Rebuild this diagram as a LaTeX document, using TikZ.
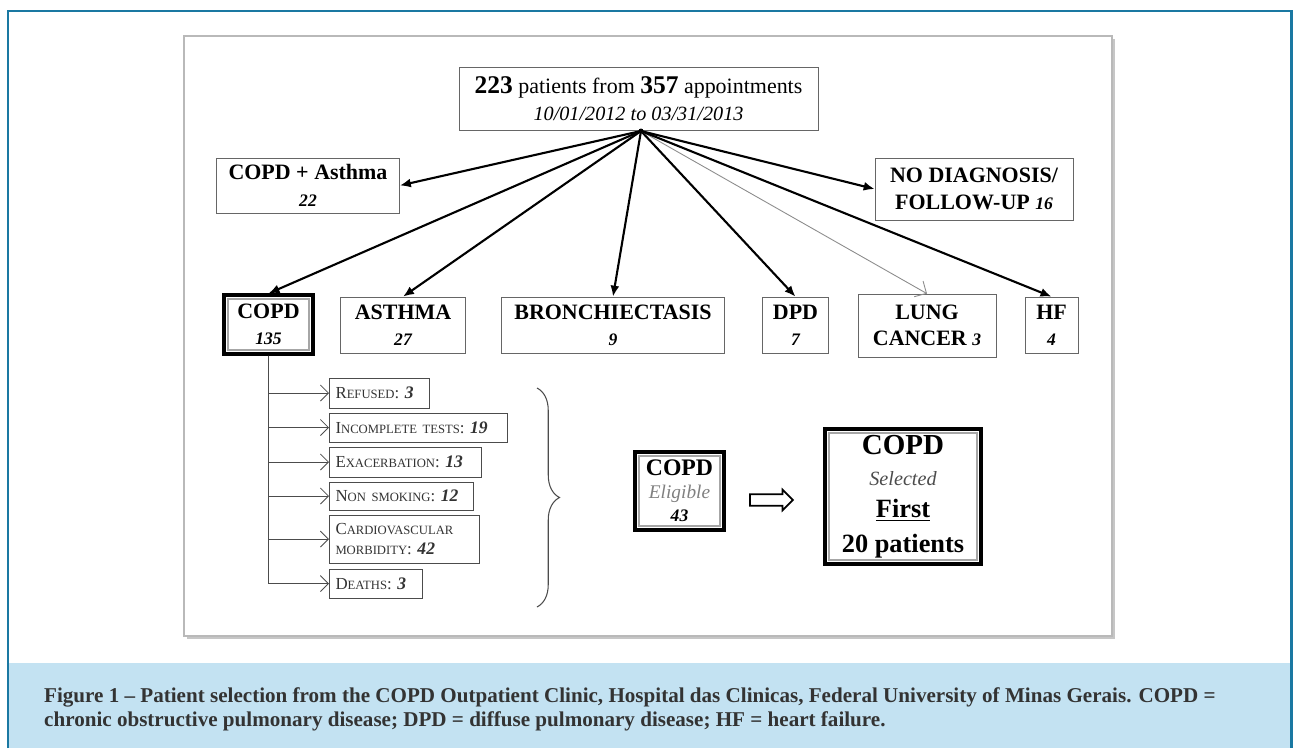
\documentclass[tikz,border=0pt]{standalone}
\usepackage{fontspec}
\setmainfont{Liberation Serif}
\usetikzlibrary{arrows.meta,shapes.arrows,shadows,decorations.pathreplacing}
\definecolor{frameblue}{HTML}{1A78A2}
\definecolor{capblue}{HTML}{C3E2F2}
\definecolor{captext}{HTML}{333333}
\newcommand{\cnt}[1]{{\fontsize{10}{12}\selectfont\bfseries\itshape #1}}
\newcommand{\fsc}[2]{#1{\fontsize{7.2}{9}\selectfont #2}}
\tikzset{
  box/.style={draw=black!60,fill=white,align=center,inner sep=0pt,font=\fontsize{12.5}{15}\selectfont\bfseries},
  keybox/.style={box,draw=black,line width=1.8pt,
    path picture={\draw[gray!70,line width=0.8pt]
      ([shift={(2.2pt,-2.2pt)}]path picture bounding box.north west) rectangle
      ([shift={(-2.2pt,2.2pt)}]path picture bounding box.south east);}},
  exbox/.style={draw=black!70,fill=white,anchor=west,align=left,inner xsep=3.5pt,
    text width=#1,font=\fontsize{9.6}{11}\selectfont,text=black!80},
  flow/.style={-{Latex[length=2.2mm,width=1.8mm]},line width=1.2pt},
  faint/.style={-{Straight Barb[length=1.8mm]},black!45,line width=0.5pt},
  exarr/.style={-{Straight Barb[length=1.6mm]},black!70,line width=0.5pt},
}
\begin{document}
\begin{tikzpicture}[x=0.02cm,y=-0.02cm]
  \useasboundingbox (0,0) rectangle (1295,748);
  % frame and caption band
  \fill[capblue] (8,663) rectangle (1291,748);
  \draw[frameblue,line width=1.7pt] (8,748) -- (8,11) -- (1291,11) -- (1291,748);
  \node[anchor=west,align=left,text=captext,font=\fontsize{12}{13.6}\selectfont\bfseries] (cap) at (38,709)
    {Figure 1 -- Patient selection from the COPD Outpatient Clinic, Hospital das Clinicas, Federal University of Minas Gerais. COPD =\\
     chronic obstructive pulmonary disease; DPD = diffuse pulmonary disease; HF = heart failure.};
  % panel
  \draw[gray!55,line width=1pt,fill=white,drop shadow={shadow xshift=1.5pt,shadow yshift=-1.5pt,opacity=0.45}] (184,36) rectangle (1112,636);

  % top
  \node[box,font=\fontsize{12.5}{15.5}\selectfont,minimum width=7.18cm,minimum height=1.26cm] (all) at (638.5,98.5)
    {{\fontsize{14.5}{15}\selectfont\bfseries 223} patients from {\fontsize{14.5}{15}\selectfont\bfseries 357} appointments\\
     {\fontsize{11.5}{13}\selectfont\itshape 10/01/2012 to 03/31/2013}};
  \coordinate (hub) at (641,131);
  \fill (hub) circle (2.5);

  % diagnoses
  \node[box,minimum width=3.66cm,minimum height=1.10cm] (copdast) at (308,185.5) {COPD + Asthma\\\cnt{22}};
  \node[box,minimum width=3.96cm,minimum height=1.24cm] (nodiag) at (974,189) {NO DIAGNOSIS/\\FOLLOW-UP \cnt{16}};
  \node[keybox,minimum width=1.78cm,minimum height=1.18cm] (copd) at (268.5,324.5) {COPD\\\cnt{135}};
  \node[box,minimum width=2.50cm,minimum height=1.12cm] (asthma) at (403,325) {ASTHMA\\\cnt{27}};
  \node[box,minimum width=4.46cm,minimum height=1.12cm] (bronch) at (613,325) {BRONCHIECTASIS\\\cnt{9}};
  \node[box,minimum width=1.32cm,minimum height=1.12cm] (dpd) at (795.5,325) {DPD\\\cnt{7}};
  \node[box,minimum width=2.76cm,minimum height=1.26cm] (lung) at (927,325.5) {LUNG\\CANCER \cnt{3}};
  \node[box,minimum width=1.06cm,minimum height=1.12cm] (hf) at (1051.5,325) {HF\\\cnt{4}};

  \draw[flow] (hub) -- (copdast.east);
  \draw[flow] (hub) -- (nodiag.west);
  \draw[flow] (hub) -- (copd.north);
  \draw[flow] (hub) -- (asthma.north);
  \draw[flow] (hub) -- (bronch.north);
  \draw[flow] (hub) -- (dpd.north);
  \draw[faint] (hub) -- (lung.north);
  \draw[flow] (hub) -- (hf.north);

  % exclusions
  \node[exbox=1.76cm,minimum height=0.60cm] (refused) at (329,393) {\fsc{R}{EFUSED}: \cnt{3}};
  \node[exbox=3.32cm,minimum height=0.58cm] (incompl) at (329,427.5) {\fsc{I}{NCOMPLETE TESTS}: \cnt{19}};
  \node[exbox=2.80cm,minimum height=0.60cm] (exacerb) at (329,462) {\fsc{E}{XACERBATION}: \cnt{13}};
  \node[exbox=2.64cm,minimum height=0.56cm] (nonsmok) at (329,496) {\fsc{N}{ON SMOKING}: \cnt{12}};
  \node[exbox=2.76cm,minimum height=0.96cm] (cardio) at (329,539) {\fsc{C}{ARDIOVASCULAR}\\{\fontsize{7.2}{9}\selectfont MORBIDITY}: \cnt{42}};
  \node[exbox=1.62cm,minimum height=0.58cm] (deaths) at (329,583.5) {\fsc{D}{EATHS}: \cnt{3}};
  \foreach \ex in {refused,incompl,exacerb,nonsmok,cardio,deaths}
    \draw[exarr] (copd.south) |- (\ex.west);
  \draw[decorate,decoration={brace,amplitude=0.45cm},black!70,line width=0.6pt] (537,388) -- (537,607);

  % result
  \node[keybox,font=\fontsize{13.5}{15}\selectfont\bfseries,minimum width=1.78cm,minimum height=1.56cm] (elig) at (679.5,491)
    {COPD\\[-2pt]{\fontsize{11}{12}\selectfont\mdseries\itshape\color{gray}Eligible}\\[-2pt]\cnt{43}};
  \node[draw,single arrow,single arrow head extend=2.6pt,inner sep=2.8pt,minimum height=0.86cm,line width=1pt] (go) at (768.5,500) {};
  \node[keybox,font=\fontsize{15}{18.5}\selectfont\bfseries,minimum width=3.12cm,minimum height=2.70cm] (chosen) at (903,496.5)
    {{\fontsize{16.5}{18}\selectfont COPD}\\[-1pt]{\fontsize{11.5}{13}\selectfont\mdseries\itshape\color{black!70}Selected}\\\underline{First}\\[1pt]20 patients};
\end{tikzpicture}
\end{document}
